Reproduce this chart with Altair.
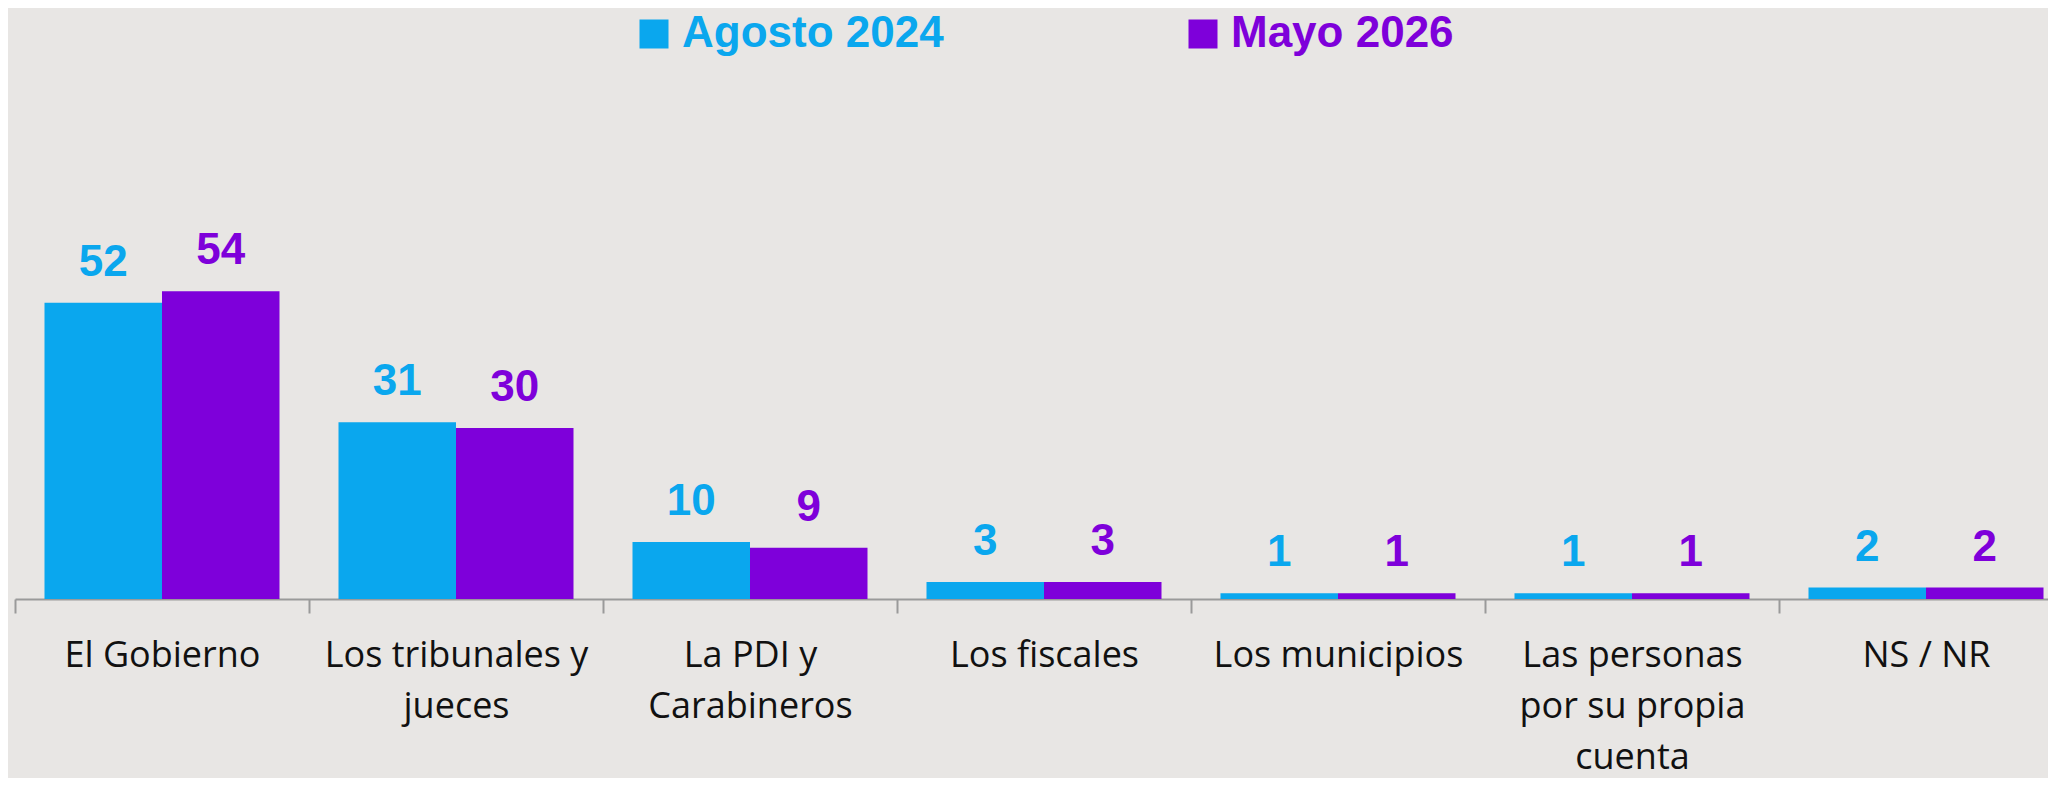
import altair as alt
import pandas as pd

categories = ["El Gobierno", "Los tribunales y|jueces", "La PDI y|Carabineros",
              "Los fiscales", "Los municipios", "Las personas|por su propia|cuenta", "NS / NR"]
series = ["Agosto 2024", "Mayo 2026"]
agosto_2024 = [52, 31, 10, 3, 1, 1, 2]
mayo_2026 = [54, 30, 9, 3, 1, 1, 2]
colors = ["#0AA7EE", "#7E00DA"]

rows = []
for c, a, m in zip(categories, agosto_2024, mayo_2026):
    rows.append({"cat": c, "serie": series[0], "val": a})
    rows.append({"cat": c, "serie": series[1], "val": m})
df = pd.DataFrame(rows)

x = alt.X(
    "cat:N", sort=categories,
    scale=alt.Scale(range=[0, 2058], paddingInner=0, paddingOuter=0),
    axis=alt.Axis(
        title=None, labelAngle=0, labelExpr="split(datum.label, '|')",
        tickBand="extent", domainColor="#9A9A9A", domainWidth=2,
        tickColor="#9A9A9A", tickWidth=2, tickSize=14,
        labelFont="Open Sans", labelFontSize=36, labelColor="#111111",
        labelPadding=25, labelLineHeight=51, labelLimit=600,
        labelFlush=False, labelOverlap=False,
    ),
)
xo = alt.XOffset("serie:N", sort=series, scale=alt.Scale(paddingOuter=0.251, paddingInner=0))
y = alt.Y("val:Q", scale=alt.Scale(domain=[0, 70.2], nice=False), axis=None)

color_legend = alt.Color(
    "serie:N", sort=series, scale=alt.Scale(domain=series, range=colors),
    legend=alt.Legend(
        title=None, orient="none", legendX=617, legendY=-187, direction="horizontal",
        symbolType="square", symbolSize=841, symbolStrokeWidth=0,
        labelFont="Liberation Sans", labelFontWeight="bold", labelFontSize=44,
        labelOffset=6, columnPadding=237, padding=0, labelLimit=600,
        labelColor=alt.ExprRef(expr="datum.value == 'Agosto 2024' ? '#0AA7EE' : '#7E00DA'"),
    ),
)
color_plain = alt.Color("serie:N", sort=series, scale=alt.Scale(domain=series, range=colors), legend=None)

bars = alt.Chart(df).mark_bar().encode(x=x, xOffset=xo, y=y, color=color_legend)
labels = alt.Chart(df).mark_text(
    font="Liberation Sans", fontWeight="bold", fontSize=44, baseline="alphabetic", dy=-27
).encode(x=x, xOffset=xo, y=y, text="val:Q", color=color_plain)

chart = alt.layer(bars, labels).properties(
    width=2033, height=400, background="#E8E6E4",
    padding={"left": 7, "top": 191, "right": 0, "bottom": 179},
    autosize=alt.AutoSizeParams(type="none"),
).configure_view(stroke=None)

chart.save("out.html", embed_options={"renderer": "svg", "actions": False})
